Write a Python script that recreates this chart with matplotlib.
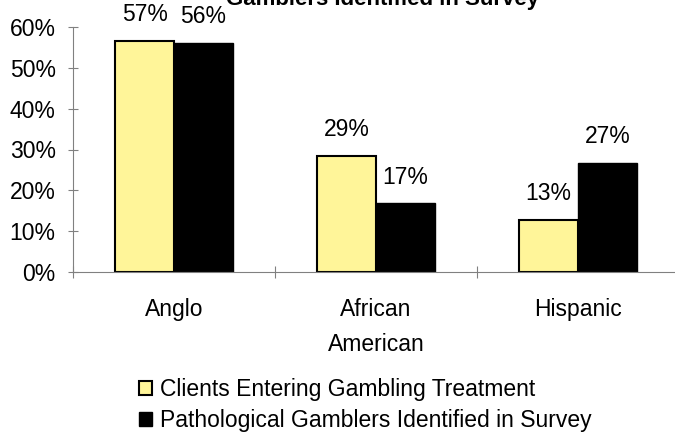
import numpy as np
import matplotlib.pyplot as plt
from matplotlib.patches import Patch

plt.rcParams['font.family'] = ['Liberation Sans', 'DejaVu Sans']

categorias = ['Anglo', 'African\nAmerican', 'Hispanic']
clientes = [56.6, 28.5, 12.8]
clientes_txt = ['57%', '29%', '13%']
patologicos = [56.0, 16.8, 26.6]
patologicos_txt = ['56%', '17%', '27%']
series = ['Clients Entering Gambling Treatment',
          'Pathological Gamblers Identified in Survey']

amarillo = '#FFF599'
gris = '#808080'
letra = 16.5

fig = plt.figure(figsize=(6.75, 4.38), dpi=100)
# el eje se sale un poco por la derecha, como en el original
ax = fig.add_axes([73 / 675, 1 - 272 / 438, 606 / 675, 245 / 438])

x = np.arange(len(categorias))
ancho = 0.29
b1 = ax.bar(x - ancho / 2, clientes, ancho, color=amarillo, edgecolor='black', linewidth=1.5)
b2 = ax.bar(x + ancho / 2, patologicos, ancho, color='black', edgecolor='black', linewidth=1)

for barras, textos in [(b1, clientes_txt), (b2, patologicos_txt)]:
    for b, t in zip(barras, textos):
        ax.annotate(t, (b.get_x() + b.get_width() / 2, b.get_height()),
                    xytext=(0, 19), textcoords='offset points',
                    ha='center', va='center', fontsize=letra)

ax.set_xlim(-0.5, 2.5)
ax.set_ylim(0, 60)
ax.set_yticks(np.arange(0, 61, 10))
ax.set_yticklabels([f'{v}%' for v in range(0, 61, 10)], fontsize=letra)
ax.set_xticks([-0.5, 0.5, 1.5])
ax.set_xticklabels([])
ax.set_xticks(x, minor=True)
ax.set_xticklabels(categorias, minor=True, fontsize=letra, linespacing=1.65)
ax.tick_params(axis='x', which='minor', length=0, pad=19)
ax.tick_params(axis='x', which='major', direction='inout', length=8, color=gris)
ax.tick_params(axis='y', direction='inout', length=7, color=gris, pad=9)

for lado in ['top', 'right']:
    ax.spines[lado].set_visible(False)
ax.spines['left'].set_color(gris)
ax.spines['bottom'].set_color(gris)

# titulo cortado arriba
fig.text(383 / 675, 1 - 5 / 438, 'Gamblers Identified in Survey', ha='center', va='baseline',
         fontsize=16, fontweight='bold')

manejadores = [Patch(facecolor=amarillo, edgecolor='black', linewidth=1.5),
               Patch(facecolor='black', edgecolor='black')]
fig.legend(manejadores, series, loc='center left', bbox_to_anchor=(128 / 675, 1 - 405 / 438),
           frameon=False, fontsize=letra, handlelength=0.55, handleheight=0.55,
           handletextpad=0.35, labelspacing=0.35, borderpad=0)

fig.savefig('out.png', dpi=100)
